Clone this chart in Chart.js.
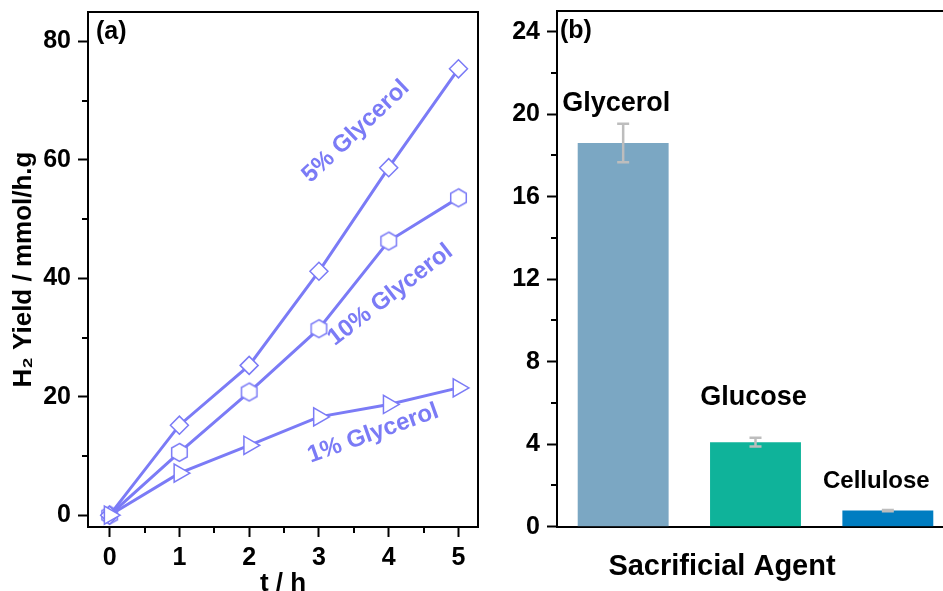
<!DOCTYPE html>
<html><head><meta charset="utf-8">
<script src="https://cdn.jsdelivr.net/npm/chart.js@4"></script>
<style>
html,body{margin:0;padding:0;background:#fff;overflow:hidden;width:943px;height:591px;position:relative;}
#ca{position:absolute;left:0;top:0;}
#cb{position:absolute;left:490px;top:0;}
</style></head><body>
<canvas id="ca" width="490" height="620"></canvas>
<canvas id="cb" width="470" height="591"></canvas>
<script>
// ---------- data ----------
const times = [0, 1, 2, 3, 4, 5];
const glycerol5 = [0, 15.2, 25.3, 41.2, 58.7, 75.4];
const glycerol10 = [0, 10.6, 20.8, 31.5, 46.3, 53.6];
const glycerol1 = [0, 7.1, 11.8, 16.6, 18.7, 21.5];
const seriesNames = ['5% Glycerol', '10% Glycerol', '1% Glycerol'];
const agents = ['Glycerol', 'Glucose', 'Cellulose'];
const agentYield = [18.6, 4.1, 0.78];
const agentErr = [0.93, 0.21, 0.03];
const xTicksA = [0, 1, 2, 3, 4, 5];
const xMinorA = [0.5, 1.5, 2.5, 3.5, 4.5];
const yTicksA = [0, 20, 40, 60, 80];
const yMinorA = [10, 30, 50, 70];
const yTicksB = [0, 4, 8, 12, 16, 20, 24];
const yMinorB = [2, 6, 10, 14, 18, 22];

// ---------- styles ----------
const FAM = "'Liberation Sans', Arial, sans-serif";
const LINE = '#7B7BF6';
const BLACK = '#000';
const barColors = ['#7BA7C3', '#0FB39A', '#007DC1'];

function fixSize(dim, size) {
  return s => { s[dim] = size; s.paddingLeft = 0; s.paddingRight = 0; s.paddingTop = 0; s.paddingBottom = 0; };
}
function setTicks(arr) { return s => { s.ticks = arr.map(v => ({ value: v })); }; }
function frameAxis(pos, min, max, type) {
  const horiz = pos === 'top' || pos === 'bottom';
  const o = {
    type: type || 'linear', position: pos, display: true,
    ticks: { display: false }, grid: { display: false },
    border: { display: true, color: BLACK, width: 2 },
    afterFit: fixSize(horiz ? 'height' : 'width', 0)
  };
  if (min !== undefined) { o.min = min; o.max = max; }
  return o;
}
function minorAxis(pos, min, max, arr, weight) {
  const horiz = pos === 'top' || pos === 'bottom';
  return {
    type: 'linear', position: pos, display: true, min: min, max: max, weight: weight,
    afterBuildTicks: setTicks(arr),
    ticks: { display: false },
    grid: { display: true, drawOnChartArea: false, drawTicks: true, tickLength: 6, tickWidth: 2, tickColor: BLACK, lineWidth: 0 },
    border: { display: false },
    afterFit: fixSize(horiz ? 'height' : 'width', 0)
  };
}

// hexagon marker
function hexMarker(R, color, lw) {
  const c = document.createElement('canvas');
  const size = Math.ceil(2 * R + 2 * lw + 2);
  c.width = size; c.height = size;
  const g = c.getContext('2d');
  g.beginPath();
  for (let i = 0; i < 6; i++) {
    const a = -Math.PI / 2 + i * Math.PI / 3;
    const px = size / 2 + R * Math.cos(a), py = size / 2 + R * Math.sin(a);
    if (i === 0) g.moveTo(px, py); else g.lineTo(px, py);
  }
  g.closePath();
  g.fillStyle = '#fff'; g.fill();
  g.lineWidth = lw; g.strokeStyle = color; g.stroke();
  return c;
}

// ---------- plugins ----------
const textPlugin = {
  id: 'texts',
  afterDatasetsDraw(chart, args, opts) {
    const ctx = chart.ctx;
    const xs = chart.scales.x, ys = chart.scales.y;
    (opts.items || []).forEach(it => {
      ctx.save();
      ctx.font = 'bold ' + it.size + 'px ' + FAM;
      ctx.fillStyle = it.color || BLACK;
      ctx.textAlign = it.align || 'center';
      ctx.textBaseline = it.baseline || 'middle';
      let px, py;
      if (it.abs) { px = chart.chartArea.left + it.abs[0]; py = chart.chartArea.top + it.abs[1]; }
      else {
        px = (it.idx !== undefined ? xs.getPixelForValue(it.idx) : xs.getPixelForValue(it.x)) + (it.dx || 0);
        py = ys.getPixelForValue(it.y);
      }
      ctx.translate(px, py);
      if (it.angle) ctx.rotate(it.angle * Math.PI / 180);
      ctx.fillText(it.text, 0, 0);
      ctx.restore();
    });
  }
};

const errPlugin = {
  id: 'errbars',
  afterDatasetsDraw(chart, args, opts) {
    if (!opts.err) return;
    const ctx = chart.ctx, ys = chart.scales.y;
    const meta = chart.getDatasetMeta(0);
    const vals = chart.data.datasets[0].data;
    ctx.save();
    ctx.strokeStyle = opts.color; ctx.lineWidth = opts.width; ctx.lineCap = 'butt';
    meta.data.forEach((bar, i) => {
      const e = opts.err[i];
      const yt = ys.getPixelForValue(vals[i] + e), yb = ys.getPixelForValue(vals[i] - e);
      const x = bar.x, c = opts.cap;
      ctx.beginPath();
      ctx.moveTo(x, yt); ctx.lineTo(x, yb);
      ctx.moveTo(x - c, yt); ctx.lineTo(x + c, yt);
      ctx.moveTo(x - c, yb); ctx.lineTo(x + c, yb);
      ctx.stroke();
    });
    ctx.restore();
  }
};

const tickFont = { family: FAM, size: 25, weight: 'bold' };

// ---------- chart (a) ----------
const toXY = arr => times.map((t, i) => ({ x: t, y: arr[i] }));
new Chart(document.getElementById('ca'), {
  type: 'line',
  data: {
    datasets: [
      { label: seriesNames[2], data: toXY(glycerol1), borderColor: LINE, borderWidth: 3,
        pointStyle: 'triangle', rotation: 90, pointRadius: 10.5, pointBorderWidth: 1.5,
        pointBackgroundColor: '#fff', pointBorderColor: LINE },
      { label: seriesNames[0], data: toXY(glycerol5), borderColor: LINE, borderWidth: 3,
        pointStyle: 'rectRot', pointRadius: 9, pointBorderWidth: 1.5,
        pointBackgroundColor: '#fff', pointBorderColor: LINE },
      { label: seriesNames[1], data: toXY(glycerol10), borderColor: LINE, borderWidth: 3,
        pointStyle: hexMarker(9, LINE, 1.5), pointRadius: 9,
        pointBackgroundColor: '#fff', pointBorderColor: LINE }
    ]
  },
  options: {
    responsive: false, animation: false, devicePixelRatio: 1,
    layout: { padding: { top: 11, right: 6, left: 0, bottom: 0 } },
    plugins: {
      legend: { display: false }, tooltip: { enabled: false },
      texts: { items: [
        { text: '(a)', size: 25, abs: [8, 20], align: 'left' },
        { text: seriesNames[0], size: 24, color: LINE, x: 3.531, y: 64.8, angle: -43.4 },
        { text: seriesNames[1], size: 24, color: LINE, x: 4.025, y: 37.2, angle: -37.7 },
        { text: seriesNames[2], size: 24, color: LINE, x: 3.778, y: 13.8, angle: -19.6 }
      ] }
    },
    scales: {
      x: {
        type: 'linear', position: 'bottom', min: -0.31, max: 5.28, weight: 1,
        afterBuildTicks: setTicks(xTicksA),
        ticks: { font: tickFont, color: BLACK, padding: 6, maxRotation: 0, autoSkip: false },
        grid: { drawOnChartArea: false, drawTicks: true, tickLength: 10, tickWidth: 2, tickColor: BLACK },
        border: { display: true, color: BLACK, width: 2 },
        title: { display: true, text: 't / h', color: BLACK, font: { family: FAM, size: 26, weight: 'bold' }, padding: { top: 0, bottom: 21 } },
        afterFit: fixSize('height', 93)
      },
      xMinor: minorAxis('bottom', -0.31, 5.28, xMinorA, 0),
      y: {
        type: 'linear', position: 'left', min: -2, max: 85, weight: 1,
        afterBuildTicks: setTicks(yTicksA),
        ticks: { font: tickFont, color: BLACK, padding: 7 },
        grid: { drawOnChartArea: false, drawTicks: true, tickLength: 10, tickWidth: 2, tickColor: BLACK },
        border: { display: true, color: BLACK, width: 2 },
        title: { display: true, text: 'H\u2082 Yield / mmol/h.g', color: BLACK, font: { family: FAM, size: 26, weight: 'bold' }, padding: { top: 8, bottom: 0 } },
        afterFit: fixSize('width', 88)
      },
      yMinor: minorAxis('left', -2, 85, yMinorA, 0),
      xTop: frameAxis('top', -0.31, 5.28),
      yRight: frameAxis('right', -2, 85)
    }
  },
  plugins: [textPlugin]
});

// ---------- chart (b) ----------
new Chart(document.getElementById('cb'), {
  type: 'bar',
  data: {
    labels: agents,
    datasets: [{ data: agentYield, backgroundColor: barColors, borderWidth: 0,
      barPercentage: 0.687, categoryPercentage: 1 }]
  },
  options: {
    responsive: false, animation: false, devicePixelRatio: 1,
    layout: { padding: { top: 11, right: 6, left: 0, bottom: 6.5 } },
    plugins: {
      legend: { display: false }, tooltip: { enabled: false },
      title: { display: true, position: 'bottom', text: 'Sacrificial Agent', color: BLACK,
        font: { family: FAM, size: 29, weight: 'bold' }, padding: { top: 23, bottom: 0 } },
      errbars: { err: agentErr, color: '#BDBDBD', width: 2.5, cap: 6 },
      texts: { items: [
        { text: '(b)', size: 25, abs: [3, 20], align: 'left' },
        { text: agents[0], size: 27, idx: 0, dx: -7, y: 20.15, baseline: 'alphabetic' },
        { text: agents[1], size: 27, idx: 1, dx: -2, y: 5.91, baseline: 'alphabetic' },
        { text: agents[2], size: 24, idx: 2, dx: -11.5, y: 1.88, baseline: 'alphabetic' }
      ] }
    },
    scales: {
      x: {
        type: 'category', position: 'bottom', offset: true,
        ticks: { display: false }, grid: { display: false },
        border: { display: true, color: BLACK, width: 2 },
        afterFit: fixSize('height', 0)
      },
      y: {
        type: 'linear', position: 'left', min: 0, max: 25, weight: 1,
        afterBuildTicks: setTicks(yTicksB),
        ticks: { font: tickFont, color: BLACK, padding: 7 },
        grid: { drawOnChartArea: false, drawTicks: true, tickLength: 10, tickWidth: 2, tickColor: BLACK },
        border: { display: true, color: BLACK, width: 2 },
        afterFit: fixSize('width', 67)
      },
      yMinor: minorAxis('left', 0, 25, yMinorB, 0),
      xTop: frameAxis('top', 0, 1),
      yRight: frameAxis('right', 0, 25)
    }
  },
  plugins: [textPlugin, errPlugin]
});
</script>
</body></html>
